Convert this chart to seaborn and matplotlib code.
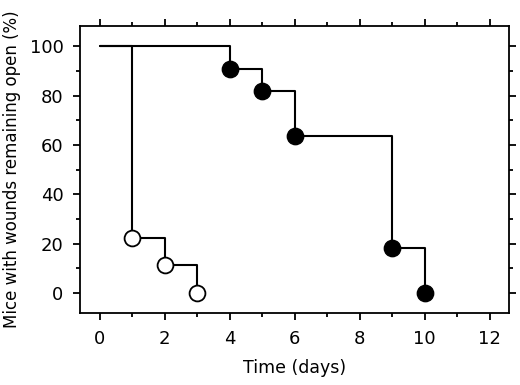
import matplotlib
matplotlib.use("Agg")
import matplotlib.pyplot as plt
from matplotlib.ticker import MultipleLocator
import seaborn as sns
import pandas as pd

# Datos: dias y porcentaje de ratones con heridas abiertas
dias_abiertos = [0, 1, 2, 3]
pct_abiertos = [100, 22.2, 11.1, 0]
dias_llenos = [0, 4, 5, 6, 9, 10]
pct_llenos = [100, 90.9, 81.8, 63.6, 18.2, 0]

sns.set_style("white")
plt.rcParams['font.family'] = ['DejaVu Sans']
plt.rcParams['text.color'] = 'black'
plt.rcParams['axes.labelcolor'] = 'black'

fig, ax = plt.subplots(figsize=(5.2, 3.85), dpi=100)

datos1 = pd.DataFrame({'dia': dias_abiertos, 'pct': pct_abiertos})
datos2 = pd.DataFrame({'dia': dias_llenos, 'pct': pct_llenos})

sns.lineplot(x='dia', y='pct', data=datos2, drawstyle='steps-post', color='black', lw=1.5, ax=ax, zorder=2)
sns.lineplot(x='dia', y='pct', data=datos1, drawstyle='steps-post', color='black', lw=1.5, ax=ax, zorder=2)

sns.scatterplot(x='dia', y='pct', data=datos2.iloc[1:], s=140, color='black', edgecolor='black', ax=ax, zorder=3)
sns.scatterplot(x='dia', y='pct', data=datos1.iloc[1:], s=130, facecolor='white', edgecolor='black', linewidth=1.3, ax=ax, zorder=3)

ax.set_xlim(-0.6, 12.6)
ax.set_ylim(-8.2, 108.2)
ax.xaxis.set_major_locator(MultipleLocator(2))
ax.xaxis.set_minor_locator(MultipleLocator(1))
ax.yaxis.set_major_locator(MultipleLocator(20))
ax.yaxis.set_minor_locator(MultipleLocator(10))
ax.tick_params(which='both', direction='out', top=True, right=True, bottom=True, left=True, width=1.3, colors='black', labelsize=13)
ax.tick_params(which='major', length=5, pad=7)
ax.tick_params(which='minor', length=3)
for s in ax.spines.values():
    s.set_linewidth(1.3)
    s.set_color('black')

ax.set_xlabel('Time (days)', fontsize=12.5, labelpad=8)
ax.set_ylabel('Mice with wounds remaining open (%)', fontsize=12, labelpad=6)

plt.subplots_adjust(left=0.154, right=0.979, top=0.932, bottom=0.187)
plt.savefig('out.png', dpi=100)
